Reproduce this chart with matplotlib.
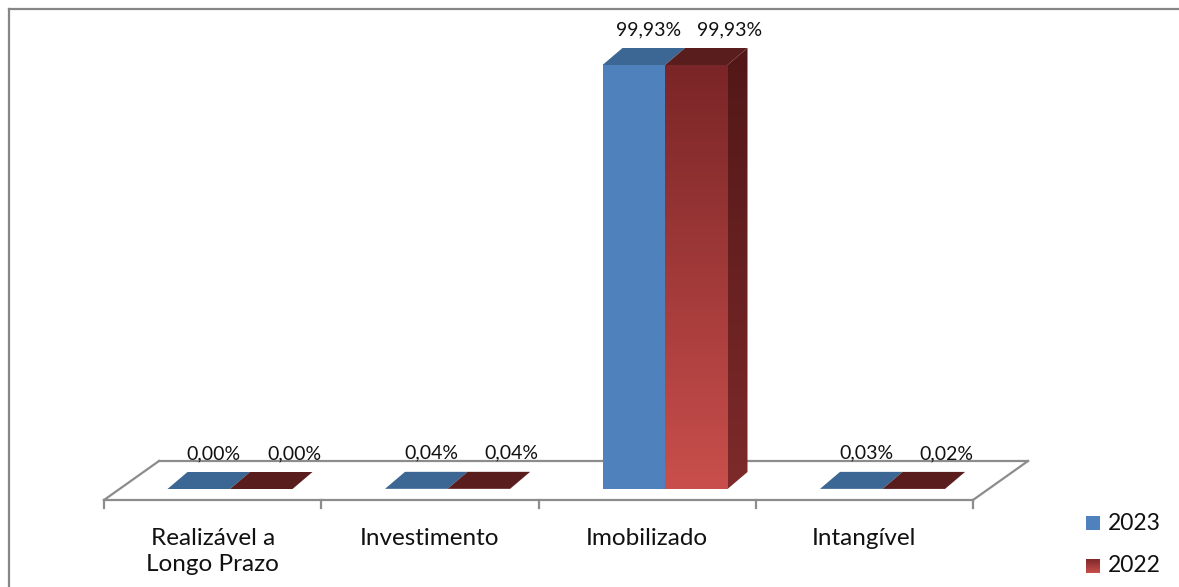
import numpy as np
import matplotlib
matplotlib.use("Agg")
import matplotlib.pyplot as plt
from matplotlib.patches import Polygon, Rectangle
from matplotlib.lines import Line2D
from matplotlib.colors import LinearSegmentedColormap

plt.rcParams["font.family"] = ["Lato", "DejaVu Sans"]

# === data ===
categories = ["Realizável a\nLongo Prazo", "Investimento", "Imobilizado", "Intangível"]
series_names = ["2023", "2022"]
values_2023 = [0.00, 0.04, 99.93, 0.03]
values_2022 = [0.00, 0.04, 99.93, 0.02]

# === layout (pixel geometry of the 3D box) ===
W_PX, H_PX = 1179, 587
X0, SX = 230, 217.5     # pixel of first category centre, pixels per category
Y0, SY = 489, 4.243     # pixel of the bar base, pixels per percent

def px_x(p):
    return p / SX

def px_y(p):
    return p / SY

BAR_W = px_x(62.5)
DX, DY = px_x(20), px_y(17)

BLUE_FRONT = "#4F81BD"
BLUE_TOP = "#3C6794"
RED_TOP = "#5A1D1D"
GRID = "#8C8C8C"

red_front_cmap = LinearSegmentedColormap.from_list("rf", ["#C94F4C", "#7A2527"])
red_side_cmap = LinearSegmentedColormap.from_list("rs", ["#7E2A2A", "#521717"])

fig = plt.figure(figsize=(W_PX / 100, H_PX / 100), dpi=100)
ax = fig.add_axes([0, 0, 1, 1])
ax.axis("off")

# outer frame (top and left edge only)
fig.add_artist(Line2D([9.5 / W_PX, 1], [1 - 8.5 / H_PX] * 2, color="#868686", lw=1.6,
                      transform=fig.transFigure))
fig.add_artist(Line2D([9.5 / W_PX] * 2, [1 - 8.5 / H_PX, 0], color="#868686", lw=1.6,
                      transform=fig.transFigure))

# floor
n = len(categories)
fl_y = px_y(Y0 - 500)
bk_y = px_y(Y0 - 461)
fl_x0 = px_x(104 - X0)
fl_x1 = fl_x0 + n * px_x(217.25)
fl_dx = px_x(55)
ax.plot([fl_x0 + fl_dx, fl_x1 + fl_dx], [bk_y, bk_y], color=GRID, lw=1.6, zorder=1)
ax.plot([fl_x0, fl_x1], [fl_y, fl_y], color=GRID, lw=1.6, zorder=1)
ax.plot([fl_x0, fl_x0 + fl_dx], [fl_y, bk_y], color=GRID, lw=1.6, zorder=1)
ax.plot([fl_x1, fl_x1 + fl_dx], [fl_y, bk_y], color=GRID, lw=1.6, zorder=1)
for k in range(n + 1):
    tx = fl_x0 + k * px_x(217.25)
    ax.plot([tx, tx], [fl_y, fl_y - px_y(8)], color=GRID, lw=1.6, zorder=1)


def gradient_poly(verts, cmap, zorder):
    poly = Polygon(verts, closed=True, facecolor="none", edgecolor="none", zorder=zorder)
    ax.add_patch(poly)
    xs = [v[0] for v in verts]
    ys = [v[1] for v in verts]
    grad = np.linspace(1, 0, 256).reshape(-1, 1)
    im = ax.imshow(grad, cmap=cmap, aspect="auto", zorder=zorder,
                   extent=[min(xs), max(xs), min(ys), max(ys)], interpolation="bilinear")
    im.set_clip_path(poly)


def bar3d(x0, h, front, top, side=None):
    front_v = [(x0, 0), (x0 + BAR_W, 0), (x0 + BAR_W, h), (x0, h)]
    top_v = [(x0, h), (x0 + BAR_W, h), (x0 + BAR_W + DX, h + DY), (x0 + DX, h + DY)]
    side_v = [(x0 + BAR_W, 0), (x0 + BAR_W + DX, DY), (x0 + BAR_W + DX, h + DY), (x0 + BAR_W, h)]
    if side is not None:
        gradient_poly(side_v, side, 3)
    if isinstance(front, str):
        ax.add_patch(Polygon(front_v, closed=True, facecolor=front, edgecolor="none", zorder=3))
    elif h > 0.5:
        gradient_poly(front_v, front, 3)
    ax.add_patch(Polygon(top_v, closed=True, facecolor=top, edgecolor="none", zorder=4))


def fmt(v):
    return f"{v:.2f}%".replace(".", ",")


for i in range(n):
    bar3d(i - BAR_W, values_2023[i], BLUE_FRONT, BLUE_TOP)
    bar3d(i, values_2022[i], red_front_cmap, RED_TOP, red_side_cmap)
    ax.text(i - BAR_W / 2 + px_x(15), values_2023[i] + DY + px_y(13), fmt(values_2023[i]),
            ha="center", va="baseline", fontsize=14, color="#111111")
    ax.text(i + BAR_W / 2 + px_x(33), values_2022[i] + DY + px_y(13), fmt(values_2022[i]),
            ha="center", va="baseline", fontsize=14, color="#111111")
    ax.text(fl_x0 + (i + 0.5) * px_x(217.25), fl_y - px_y(28), categories[i],
            ha="center", va="top", fontsize=17.5, linespacing=1.3, color="#111111")

# legend
for j, name in enumerate(series_names):
    ly = px_y(Y0 - 523 - 43 * j)
    lx = px_x(1086 - X0)
    sq_w, sq_h = px_x(14), px_y(14)
    if j == 0:
        ax.add_patch(Rectangle((lx, ly - sq_h / 2), sq_w, sq_h, facecolor=BLUE_FRONT,
                               edgecolor="none", zorder=3))
    else:
        gradient_poly([(lx, ly - sq_h / 2), (lx + sq_w, ly - sq_h / 2),
                       (lx + sq_w, ly + sq_h / 2), (lx, ly + sq_h / 2)], red_front_cmap, 3)
    ax.text(lx + px_x(22), ly, name, ha="left", va="center", fontsize=16.5, color="#111111")

ax.set_xlim(px_x(-X0), px_x(W_PX - X0))
ax.set_ylim(px_y(Y0 - H_PX), px_y(Y0))

fig.savefig("out.png", dpi=100)
